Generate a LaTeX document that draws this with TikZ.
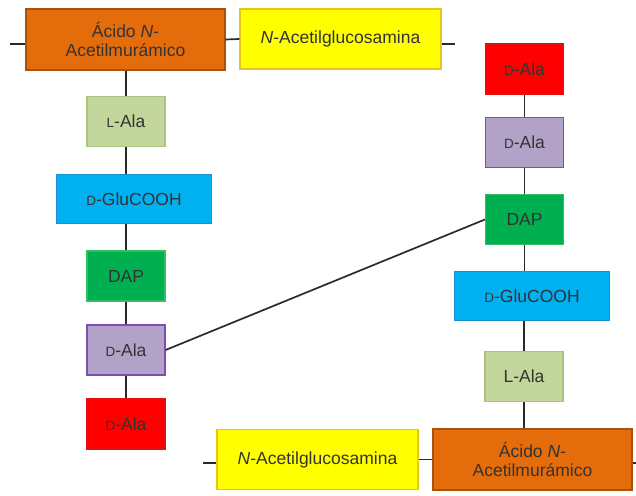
\documentclass[tikz,border=0pt]{standalone}
\usepackage{fontspec}
\setmainfont{Liberation Sans}
\definecolor{murfill}{HTML}{E46C0A}\definecolor{murline}{HTML}{A85210}
\definecolor{glcfill}{HTML}{FFFF00}\definecolor{glcline}{HTML}{E6C619}
\definecolor{lalafill}{HTML}{C3D69B}\definecolor{lalaline}{HTML}{A9C47F}
\definecolor{glufill}{HTML}{00B0F0}\definecolor{gluline}{HTML}{1A8FD6}
\definecolor{dapfill}{HTML}{00B050}\definecolor{dapline}{HTML}{30C060}
\definecolor{pdfill}{HTML}{B3A2C7}\definecolor{pdline}{HTML}{7F4FB0}
\definecolor{rdfill}{HTML}{FF0000}\definecolor{rdline}{HTML}{E01010}
\definecolor{txt}{HTML}{333333}
\definecolor{link}{HTML}{2A2A2A}
\newcommand{\scl}[1]{{\fontsize{13.5}{13.5}\selectfont #1}}
\begin{document}
\begin{tikzpicture}[x=1pt,y=-1pt,
  unit/.style={draw,line width=1.2pt,inner sep=0pt,align=center,text=txt,
    font=\fontsize{17.5}{19.5}\selectfont},
  mur/.style={unit,fill=murfill,draw=murline,minimum width=199pt,minimum height=61pt},
  glc/.style={unit,fill=glcfill,draw=glcline,minimum width=201pt,minimum height=60pt},
  lala/.style={unit,fill=lalafill,draw=lalaline,minimum width=78pt,minimum height=50pt},
  glu/.style={unit,fill=glufill,draw=gluline,minimum width=155pt,minimum height=49pt},
  dap/.style={unit,fill=dapfill,draw=dapline,minimum width=78pt,minimum height=50pt},
  pdala/.style={unit,fill=pdfill,draw=pdline,minimum width=78pt,minimum height=50pt},
  rdala/.style={unit,fill=rdfill,draw=rdline,minimum width=78pt,minimum height=50pt},
  bond/.style={draw=link,line width=1.7pt}]
\useasboundingbox (0,0) rectangle (636,495);

% upper chain
\node[mur]  (mur1)   at (125.5,39.5) {Ácido \textit{N}-\\Acetilmurámico};
\node[glc]  (glc1)   at (340.5,39)   {\textit{N}-Acetilglucosamina};
\node[lala] (lala1)  at (126,121.5)  {\scl{L}-Ala};
\node[glu]  (glu1)   at (134,199)    {\scl{D}-GluCOOH};
\node[dap]  (dap1)   at (126,276)    {DAP};
\node[pdala](pdala1) at (126,350)    {\scl{D}-Ala};
\node[rdala](rdala1) at (126,424)    {\scl{D}-Ala};

% lower chain
\node[rdala](rdala2) at (524.5,69)   {\scl{D}-Ala};
\node[pdala](pdala2) at (524.5,142.5){\scl{D}-Ala};
\node[dap]  (dap2)   at (524.5,219.5){DAP};
\node[glu]  (glu2)   at (532,296)    {\scl{D}-GluCOOH};
\node[lala] (lala2)  at (524,376.5)  {L-Ala};
\node[glc]  (glc2)   at (317.5,459.5){\textit{N}-Acetilglucosamina};
\node[mur]  (mur2)   at (532.5,459.5){Ácido \textit{N}-\\Acetilmurámico};

% free ends of the glycan strands
\coordinate (e1) at (10,44);
\coordinate (e2) at (455,44);
\coordinate (e3) at (203,463);
\coordinate (e4) at (640,463);

% glycan backbone bonds
\draw[bond] (e1) -- (e1 -| mur1.west);
\draw[bond] (mur1.east) -- (glc1.west);
\draw[bond] (e2 -| glc1.east) -- (e2);
\draw[bond] (e3) -- (e3 -| glc2.west);
\draw[bond] (glc2.east) -- (mur2.west);
\draw[bond] (e4 -| mur2.east) -- (e4);

% peptide stems
\draw[bond] (lala1.north |- mur1.south) -- (lala1.north);
\draw[bond] (lala1.south) -- (lala1.south |- glu1.north);
\draw[bond] (dap1.north |- glu1.south) -- (dap1.north);
\draw[bond] (dap1.south) -- (pdala1.north);
\draw[bond] (pdala1.south) -- (rdala1.north);

\draw[bond] (rdala2.south) -- (pdala2.north);
\draw[bond] (pdala2.south) -- (dap2.north);
\draw[bond] (dap2.south) -- (dap2.south |- glu2.north);
\draw[bond] (lala2.north |- glu2.south) -- (lala2.north);
\draw[bond] (lala2.south) -- (lala2.south |- mur2.north);

% cross-link
\draw[bond] (pdala1.east) -- (dap2.west);
\end{tikzpicture}
\end{document}
